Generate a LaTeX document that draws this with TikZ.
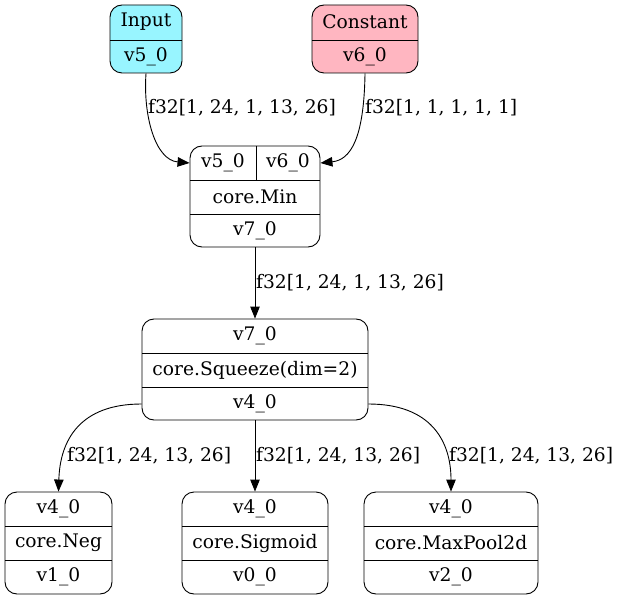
\documentclass[tikz,border=0pt]{standalone}
\usepackage{fontspec}
\setmainfont{DejaVu Serif}
\usetikzlibrary{arrows.meta}
\definecolor{inputfill}{HTML}{98F5FF}
\definecolor{constfill}{HTML}{FFB6C1}
\begin{document}
\begin{tikzpicture}[x=1pt,y=-1pt,
  rec/.style={draw, line width=0.9pt, rounded corners=12pt, inner sep=0pt},
  div/.style={line width=0.9pt},
  txt/.style={inner sep=0pt, font=\fontsize{18.67}{22}\selectfont},
  lab/.style={inner sep=0pt, anchor=west, font=\fontsize{18.67}{22}\selectfont},
  edge/.style={line width=0.9pt, -{Triangle[length=12pt,width=9.5pt]}}
]
\useasboundingbox (0,0) rectangle (620,601);

% Input record
\node[rec, fill=inputfill, minimum width=72pt, minimum height=68pt] (in) at (146,39) {};
\draw[div] (110,40) -- (182,40);
\node[txt] (inA) at (146,22) {Input};
\node[txt] (inB) at (146,57) {v5\_0};

% Constant record
\node[rec, fill=constfill, minimum width=106pt, minimum height=68pt] (cst) at (365,39) {};
\draw[div] (312,40) -- (418,40);
\node[txt] (cstA) at (365,22) {Constant};
\node[txt] (cstB) at (365,57) {v6\_0};

% core.Min record
\node[rec, minimum width=130pt, minimum height=101pt] (mn) at (255,196.5) {};
\draw[div] (190,180) -- (320,180);
\draw[div] (190,214) -- (320,214);
\draw[div] (256,146) -- (256,180);
\node[txt] (mnA) at (223,163) {v5\_0};
\node[txt] (mnB) at (288,163) {v6\_0};
\node[txt] (mnC) at (255,197) {core.Min};
\node[txt] (mnD) at (255,231) {v7\_0};

% core.Squeeze record
\node[rec, minimum width=226pt, minimum height=101pt] (sq) at (255,369.5) {};
\draw[div] (142,353) -- (368,353);
\draw[div] (142,387) -- (368,387);
\node[txt] (sqA) at (255,336) {v7\_0};
\node[txt] (sqB) at (255,370) {core.Squeeze(dim=2)};
\node[txt] (sqC) at (255,404) {v4\_0};

% core.Neg record
\node[rec, minimum width=107pt, minimum height=102pt] (ng) at (58.5,543) {};
\draw[div] (5,526) -- (112,526);
\draw[div] (5,560) -- (112,560);
\node[txt] (ngA) at (58.5,509) {v4\_0};
\node[txt] (ngB) at (58.5,543) {core.Neg};
\node[txt] (ngC) at (58.5,577) {v1\_0};

% core.Sigmoid record
\node[rec, minimum width=146pt, minimum height=102pt] (sg) at (255,543) {};
\draw[div] (182,526) -- (328,526);
\draw[div] (182,560) -- (328,560);
\node[txt] (sgA) at (255,509) {v4\_0};
\node[txt] (sgB) at (255,543) {core.Sigmoid};
\node[txt] (sgC) at (255,577) {v0\_0};

% core.MaxPool2d record
\node[rec, minimum width=174pt, minimum height=102pt] (mp) at (451,543) {};
\draw[div] (364,526) -- (538,526);
\draw[div] (364,560) -- (538,560);
\node[txt] (mpA) at (451,509) {v4\_0};
\node[txt] (mpB) at (451,543) {core.MaxPool2d};
\node[txt] (mpC) at (451,577) {v2\_0};

% connectors
\draw[edge] (in.south) .. controls (143,115) and (155,160) .. (mn.west |- mnA);
\draw[edge] (cst.south) .. controls (364,140) and (350,160) .. (mn.east |- mnB);
\draw[edge] (mn.south) -- (sq.north);
\draw[edge] (sq.west |- sqC) .. controls (80,404) and (60,440) .. (ng.north);
\draw[edge] (sq.east |- sqC) .. controls (430,404) and (451,440) .. (mp.north);
\draw[edge] (sq.south) -- (sg.north);

% connector labels
\node[lab] (l1) at (148,108) {f32[1, 24, 1, 13, 26]};
\node[lab] (l2) at (365,108) {f32[1, 1, 1, 1, 1]};
\node[lab] (l3) at (256,283) {f32[1, 24, 1, 13, 26]};
\node[lab] (l4) at (67,456) {f32[1, 24, 13, 26]};
\node[lab] (l5) at (256,456) {f32[1, 24, 13, 26]};
\node[lab] (l6) at (449,456) {f32[1, 24, 13, 26]};
\end{tikzpicture}
\end{document}
